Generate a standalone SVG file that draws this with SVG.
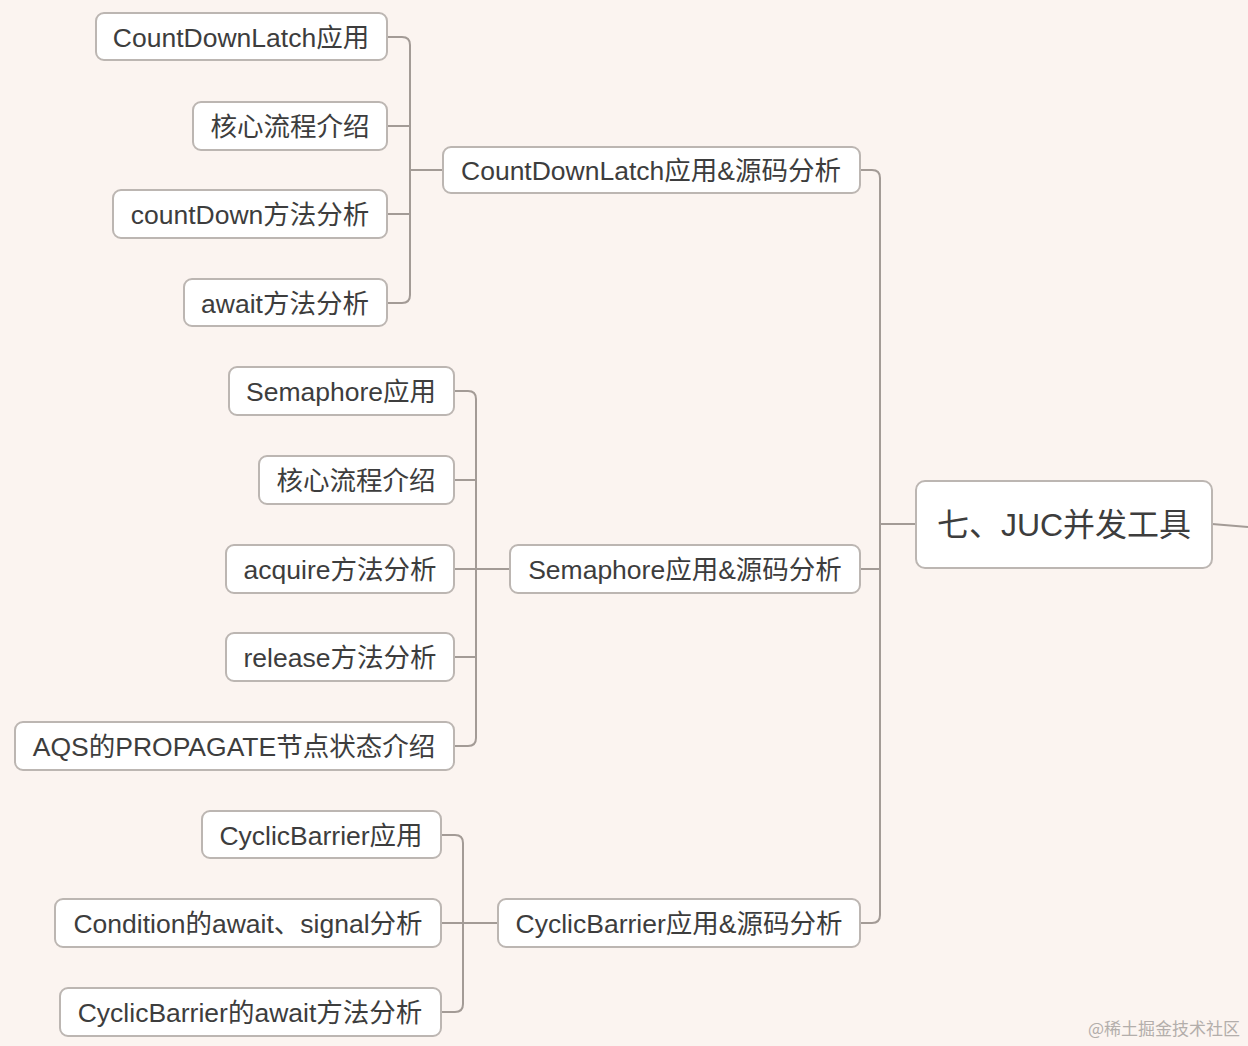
<svg xmlns="http://www.w3.org/2000/svg" width="1248" height="1046" viewBox="0 0 1248 1046">
<style>
.n rect{fill:#ffffff;stroke:#bcb6b2;stroke-width:2}
.n text{font-family:"Liberation Sans","Noto Sans CJK SC",sans-serif;font-size:26.5px;fill:#3d3d3d;text-anchor:middle;dominant-baseline:central}
.r text{font-size:32px}
.c path{fill:none;stroke:#a39b96;stroke-width:2}
.wm{font-family:"Noto Sans CJK SC",sans-serif;font-size:17px;fill:#b3aeab}
</style>
<rect width="1248" height="1046" fill="#fbf4f0"/>
<g class="c">
<path d="M387,37 H402 Q410,37 410,45 V295 Q410,303 402,303 H387"/>
<path d="M387,126 H410 M387,214 H410 M410,170 H443"/>
<path d="M454,391 H468 Q476,391 476,399 V738 Q476,746 468,746 H454"/>
<path d="M454,480 H476 M454,569 H510 M454,657 H476"/>
<path d="M441,835 H455 Q463,835 463,843 V1004 Q463,1012 455,1012 H441"/>
<path d="M441,923 H498"/>
<path d="M860,170 H872 Q880,170 880,178 V915 Q880,923 872,923 H860"/>
<path d="M860,569 H880 M880,524 H916"/>
<path d="M1212,524 L1248,527"/>
</g>
<g id="root" class="n r"><rect x="916" y="481" width="296" height="87" rx="9"/><text x="1064" y="525">七、JUC并发工具</text></g>
<g id="cdl" class="n"><rect x="443" y="147" width="417" height="46" rx="8"/><text x="651" y="171">CountDownLatch应用&amp;源码分析</text></g>
<g id="sem" class="n"><rect x="510" y="545" width="350" height="48" rx="8"/><text x="685" y="570">Semaphore应用&amp;源码分析</text></g>
<g id="cb" class="n"><rect x="498" y="899" width="362" height="48" rx="8"/><text x="679" y="924">CyclicBarrier应用&amp;源码分析</text></g>
<g id="cdl1" class="n"><rect x="96" y="13" width="291" height="47" rx="8"/><text x="241" y="38">CountDownLatch应用</text></g>
<g id="cdl2" class="n"><rect x="193" y="102" width="194" height="48" rx="8"/><text x="290" y="127">核心流程介绍</text></g>
<g id="cdl3" class="n"><rect x="113" y="190" width="274" height="48" rx="8"/><text x="250" y="215">countDown方法分析</text></g>
<g id="cdl4" class="n"><rect x="184" y="279" width="203" height="47" rx="8"/><text x="285" y="304">await方法分析</text></g>
<g id="sem1" class="n"><rect x="229" y="367" width="225" height="48" rx="8"/><text x="341" y="392">Semaphore应用</text></g>
<g id="sem2" class="n"><rect x="259" y="456" width="195" height="48" rx="8"/><text x="356" y="481">核心流程介绍</text></g>
<g id="sem3" class="n"><rect x="226" y="545" width="228" height="48" rx="8"/><text x="340" y="570">acquire方法分析</text></g>
<g id="sem4" class="n"><rect x="226" y="633" width="228" height="48" rx="8"/><text x="340" y="658">release方法分析</text></g>
<g id="sem5" class="n"><rect x="15" y="722" width="439" height="48" rx="8"/><text x="234" y="747">AQS的PROPAGATE节点状态介绍</text></g>
<g id="cb1" class="n"><rect x="202" y="811" width="239" height="47" rx="8"/><text x="321" y="836">CyclicBarrier应用</text></g>
<g id="cb2" class="n"><rect x="55" y="899" width="386" height="48" rx="8"/><text x="248" y="924">Condition的await、signal分析</text></g>
<g id="cb3" class="n"><rect x="60" y="988" width="381" height="48" rx="8"/><text x="250" y="1013">CyclicBarrier的await方法分析</text></g>
<text class="wm" x="1240" y="1035" text-anchor="end">@稀土掘金技术社区</text>
</svg>
